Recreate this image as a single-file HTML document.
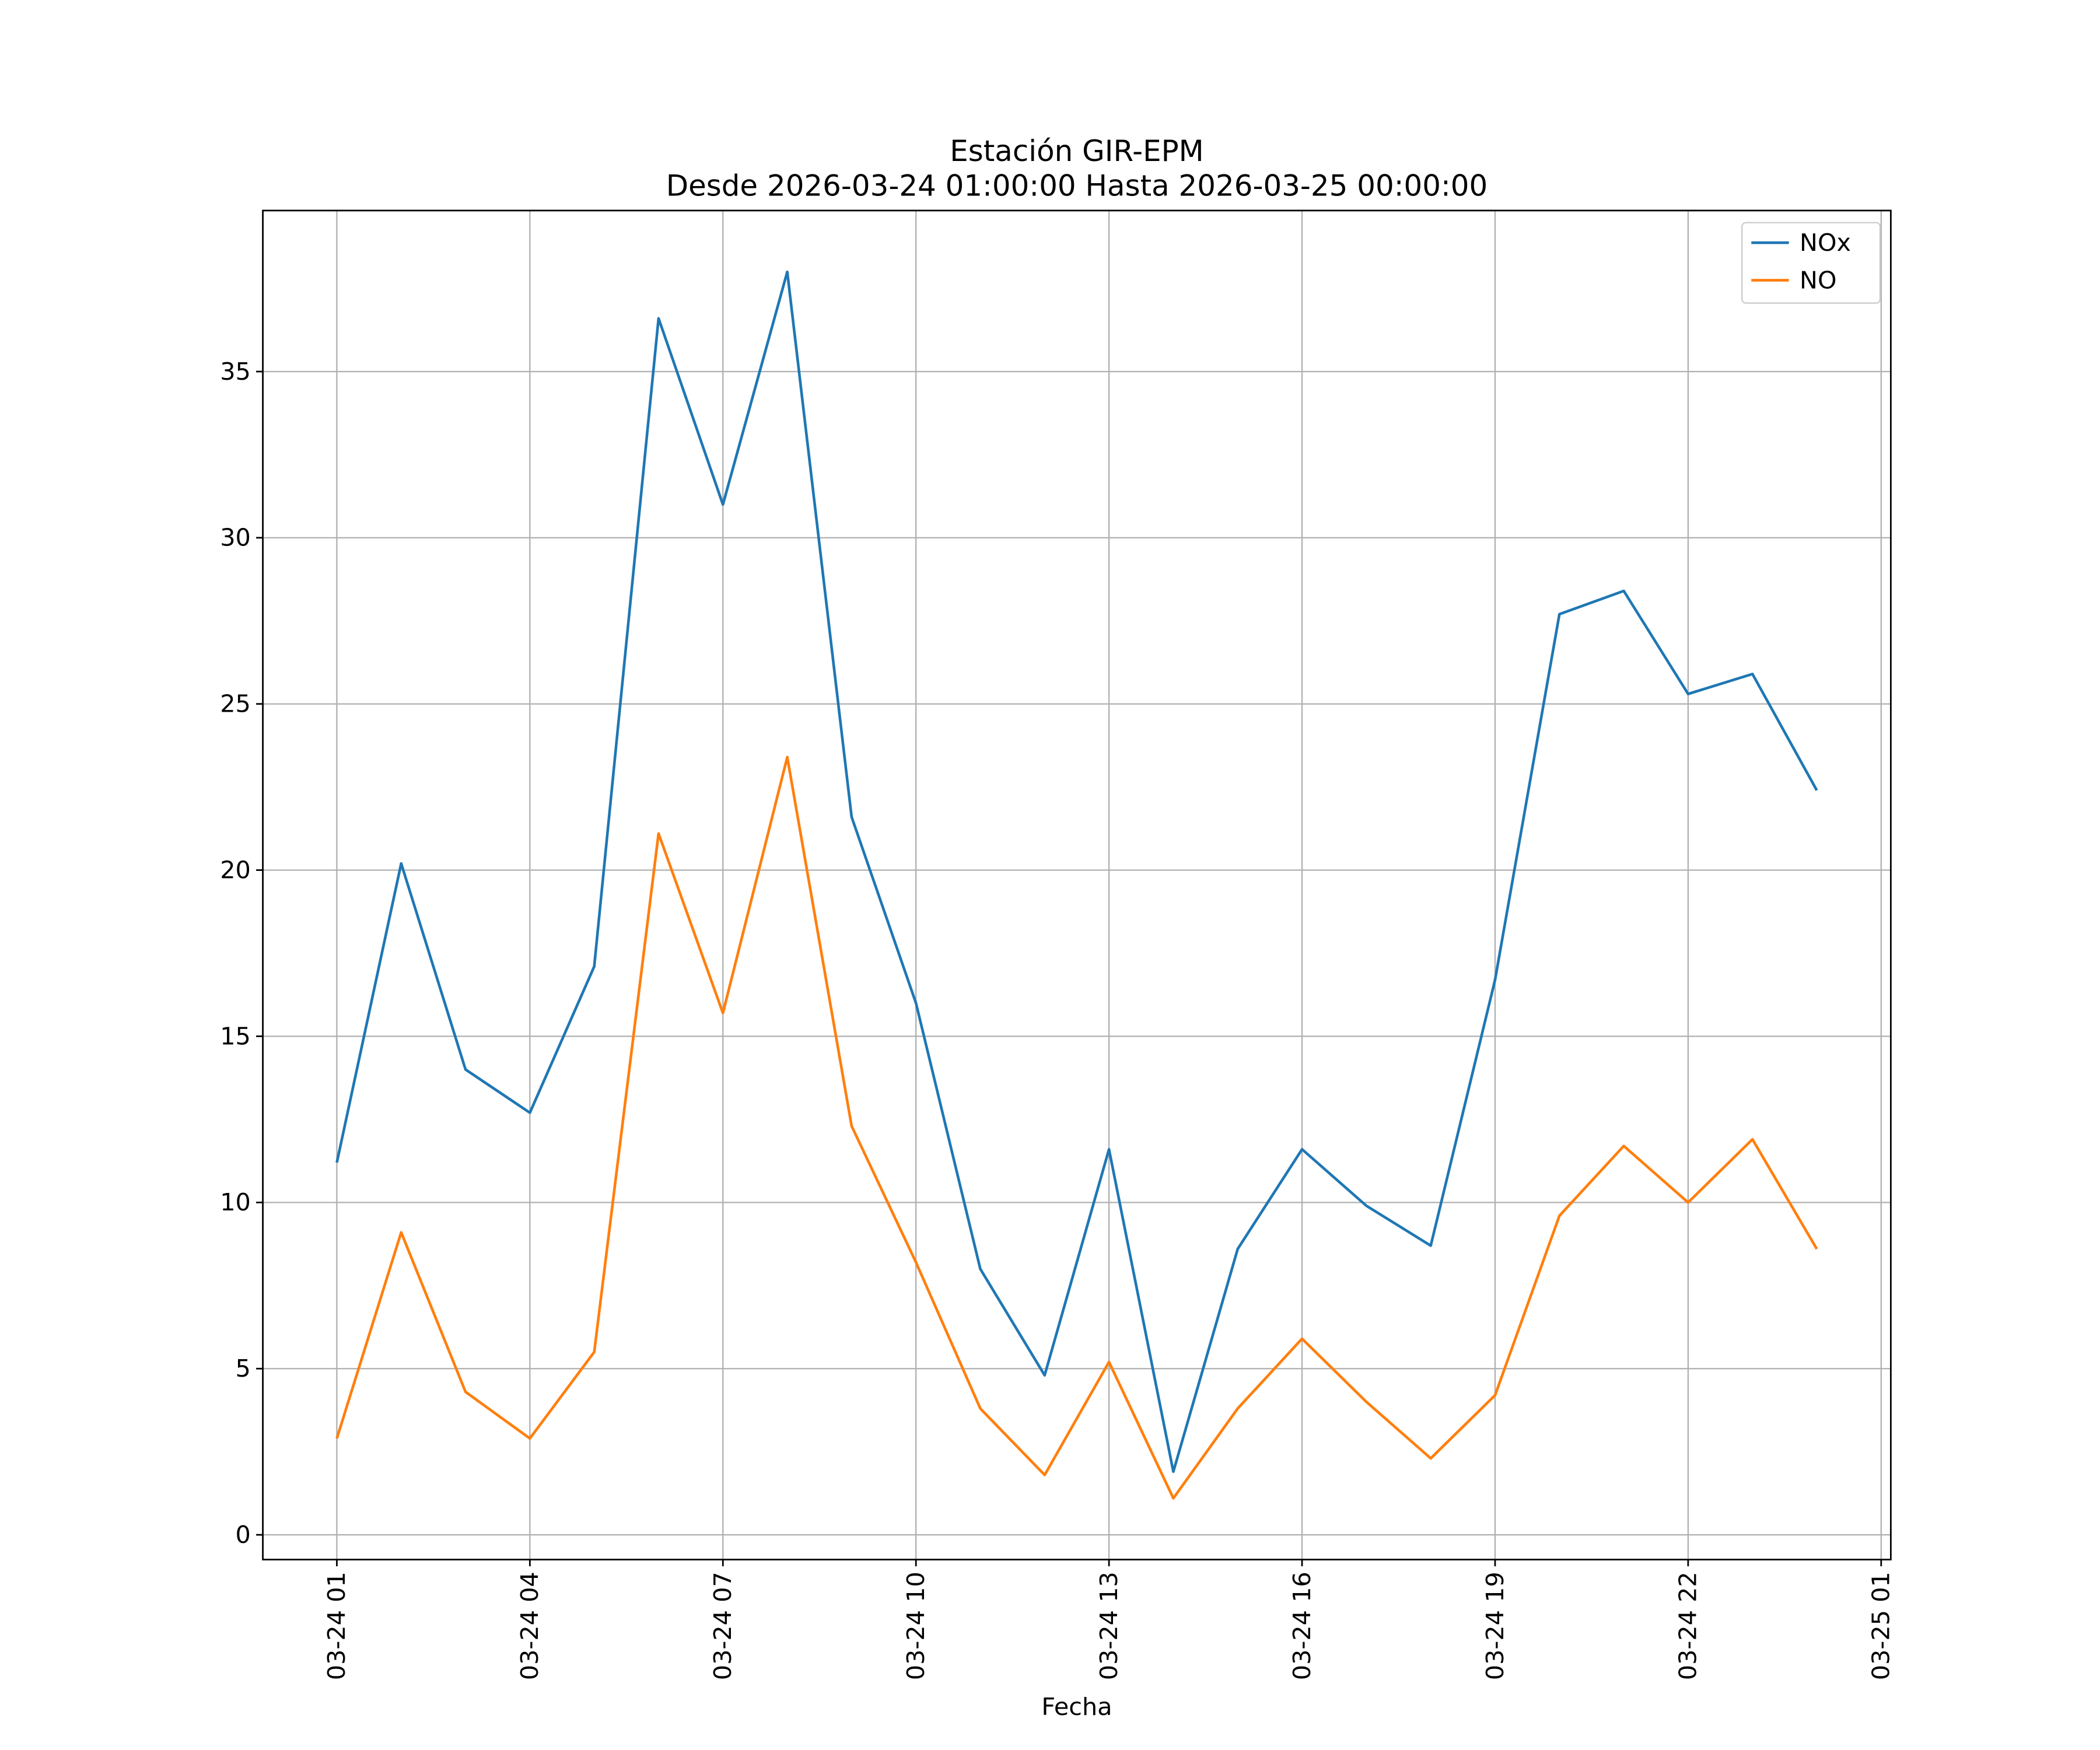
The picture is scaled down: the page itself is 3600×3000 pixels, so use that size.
<!DOCTYPE html>
<html><head><meta charset="utf-8"><style>
html,body{margin:0;padding:0;background:#fff}
svg{display:block}
text{font-family:"DejaVu Sans","Liberation Sans",sans-serif;fill:#000}
</style></head><body>
<svg id="chart" width="3600" height="3000" viewBox="0 0 1566 1305" preserveAspectRatio="none" xmlns="http://www.w3.org/2000/svg">
<text x="803" y="120" font-size="21.7" text-anchor="middle">Estación GIR-EPM</text>
<text x="803" y="146" font-size="21.7" text-anchor="middle">Desde 2026-03-24 01:00:00 Hasta 2026-03-25 00:00:00</text>
<g id="grid"></g>
<g id="ticks"></g>
<g id="series"></g>
<rect x="196" y="157" width="1214" height="1006" fill="none" stroke="#000" stroke-width="1.2"/>
<text x="803" y="1279" font-size="18" text-anchor="middle">Fecha</text>
<g>
<rect x="1299" y="166" width="103" height="60" rx="3" fill="#fff" stroke="#ccc"/>
<g><line x1="1306" y1="181" x2="1334" y2="181" stroke="#1f77b4" stroke-width="2"/><text x="1342" y="187" font-size="18">NOx</text></g>
<g><line x1="1306" y1="209" x2="1334" y2="209" stroke="#ff7f0e" stroke-width="2"/><text x="1342" y="215" font-size="18">NO</text></g>
</g>
</svg>
<script>
const hours=[1,2,3,4,5,6,7,8,9,10,11,12,13,14,15,16,17,18,19,20,21,22,23,24];
const noxValues=[11.2,20.2,14.0,12.7,17.1,36.6,31.0,38.0,21.6,16.0,8.0,4.8,11.6,1.9,8.6,11.6,9.9,8.7,16.7,27.7,28.4,25.3,25.9,22.4];
const noValues=[2.9,9.1,4.3,2.9,5.5,21.1,15.7,23.4,12.3,8.2,3.8,1.8,5.2,1.1,3.8,5.9,4.0,2.3,4.2,9.6,11.7,10.0,11.9,8.6];
const yTicks=[0,5,10,15,20,25,30,35];
const xTickHours=[1,4,7,10,13,16,19,22,25];
const xTickLabels=["03-24 01","03-24 04","03-24 07","03-24 10","03-24 13","03-24 16","03-24 19","03-24 22","03-25 01"];
const L=196,R=1410,T=157,B=1163;
const all=noxValues.concat(noValues);
const ymin=Math.min(...all),ymax=Math.max(...all),yr=ymax-ymin;
const y0=ymin-0.05*yr,y1=ymax+0.05*yr;
const xmin=hours[0],xmax=hours[hours.length-1],xr=xmax-xmin;
const x0=xmin-0.05*xr,x1=xmax+0.05*xr;
const sx=v=>L+(v-x0)/(x1-x0)*(R-L);
const sy=v=>B-(v-y0)/(y1-y0)*(B-T);
const NS="http://www.w3.org/2000/svg";
function mk(tag,attrs,parent){const e=document.createElementNS(NS,tag);for(const k in attrs)e.setAttribute(k,attrs[k]);parent.appendChild(e);return e;}
const grid=document.getElementById('grid'),ticks=document.getElementById('ticks'),series=document.getElementById('series');
yTicks.forEach(v=>{const y=sy(v);
const g=mk('line',{x1:L,x2:R,y1:y,y2:y,stroke:'#b0b0b0','stroke-width':1},grid);


mk('line',{x1:L-5,x2:L,y1:y,y2:y,stroke:'#000','stroke-width':1.2},ticks);
const t=mk('text',{x:L-9,y:y+6,'font-size':18,'text-anchor':'end'},ticks);t.textContent=v;

});
xTickHours.forEach((h,i)=>{const x=sx(h);
const g=mk('line',{x1:x,x2:x,y1:T,y2:B,stroke:'#b0b0b0','stroke-width':1},grid);


mk('line',{x1:x,x2:x,y1:B,y2:B+5,stroke:'#000','stroke-width':1.2},ticks);
const t=mk('text',{x:0,y:0,'font-size':18,'text-anchor':'end',transform:`translate(${x+6},${B+9}) rotate(-90)`},ticks);t.textContent=xTickLabels[i];

});
function line(vals,color,name){const p=mk('polyline',{points:vals.map((v,i)=>sx(hours[i])+','+sy(v)).join(' '),fill:'none',stroke:color,'stroke-width':2,'stroke-linejoin':'round'},series);

}
line(noxValues,'#1f77b4','nox-line');
line(noValues,'#ff7f0e','no-line');
</script>
</body></html>
